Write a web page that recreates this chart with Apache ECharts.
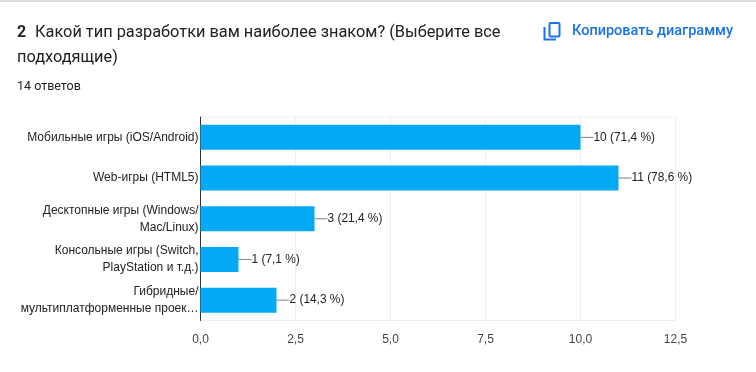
<!DOCTYPE html>
<html><head><meta charset="utf-8">
<style>html,body{margin:0;padding:0;background:#fff}#c{width:756px;height:372px}</style>
<script src="https://cdn.jsdelivr.net/npm/echarts@6/dist/echarts.min.js"></script>
</head><body><div id="c"></div>
<script>
const categories = ['Мобильные игры (iOS/Android)','Web-игры (HTML5)','Десктопные игры (Windows/\nMac/Linux)','Консольные игры (Switch,\nPlayStation и т.д.)','Гибридные/\nмультиплатформенные проек…'];
const values = [10,11,3,1,2];
const percents = ['71,4 %','78,6 %','21,4 %','7,1 %','14,3 %'];
const heading = 'Какой тип разработки вам наиболее знаком? (Выберите все';
const heading2 = 'подходящие)';
const chart = echarts.init(document.getElementById('c'), null, {renderer:'canvas'});
const hFont = {fontFamily:'Roboto',fontSize:16.35,fill:'#202124'};
chart.setOption({
  animation:false,
  grid:{show:true,borderColor:'#eeeeee',borderWidth:1,left:200.5,right:80.5,top:117,bottom:51.5,containLabel:false},
  xAxis:{type:'value',min:0,max:12.5,interval:2.5,
    axisLine:{show:false},axisTick:{show:false},
    splitLine:{show:true,lineStyle:{color:'#eeeeee',width:1}},
    axisLabel:{margin:13,color:'#444',fontFamily:'Liberation Sans',fontSize:12,
      formatter:v=>v.toFixed(1).replace('.',',')}},
  yAxis:{type:'category',inverse:true,data:categories,
    axisLine:{show:true,lineStyle:{color:'#333',width:1}},axisTick:{show:false},
    axisLabel:{margin:2,color:'#222',fontFamily:'Liberation Sans',fontSize:12,lineHeight:17,align:'right'}},
  series:[{type:'bar',data:values,barWidth:25,itemStyle:{color:'#03a9f4'},
    label:{show:true,position:'right',distance:1,color:'#222',fontFamily:'Liberation Sans',fontSize:11.9,
      formatter:p=>p.value+' ('+percents[p.dataIndex]+')'},
    labelLayout:{dx:12},
    labelLine:{show:true,lineStyle:{color:'#808080',width:1}}}],
  graphic:[
    {type:'rect',silent:true,shape:{x:0,y:0,width:756,height:2},style:{fill:'#dadce0'}},
    {type:'text',left:17,top:25,style:{text:'2',fontFamily:'Roboto',fontSize:16,fontWeight:'bold',fill:'#202124'}},
    {type:'text',left:35,top:25,style:Object.assign({text:heading},hFont)},
    {type:'text',left:17,top:50,style:Object.assign({text:heading2},hFont)},
    {type:'text',left:17,top:80,style:{text:'14 ответов',fontFamily:'Roboto',fontSize:12.5,fill:'#202124'}},
    {type:'text',left:572,top:24,style:{text:'Копировать диаграмму',fontFamily:'Roboto',fontSize:14.5,fontWeight:500,fill:'#1a73e8'}},
    {type:'rect',silent:true,shape:{x:549.5,y:23,width:10,height:13.5,r:1},style:{fill:'none',stroke:'#1a73e8',lineWidth:2}},
    {type:'polyline',silent:true,shape:{points:[[544.5,27],[544.5,39.5],[556,39.5]]},style:{fill:'none',stroke:'#1a73e8',lineWidth:2}}
  ]
});
</script></body></html>
